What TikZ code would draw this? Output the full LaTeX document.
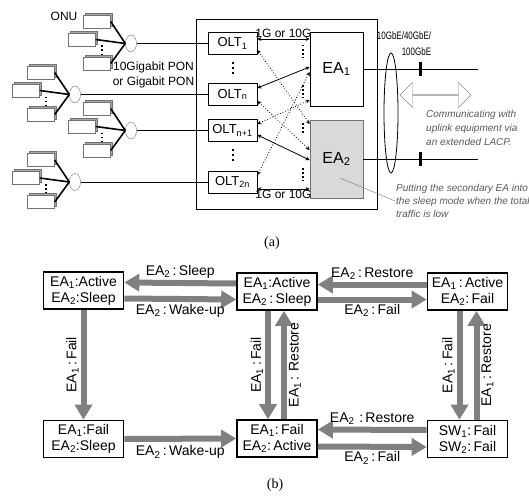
\documentclass[tikz,border=0pt]{standalone}
\usepackage{fontspec}
\setmainfont{Liberation Serif}
\setsansfont{Liberation Sans}
\renewcommand{\familydefault}{\sfdefault}
\usetikzlibrary{arrows.meta, shapes.geometric, shapes.arrows, shadows, calc}
\newcommand{\ix}[1]{\textsubscript{#1}}

\tikzset{
    onu/.style={draw=black!55, fill=white, minimum width=27, minimum height=13, inner sep=0,
        copy shadow={shadow xshift=2pt, shadow yshift=2pt, fill=black!35, draw=black!55}},
    split/.style={ellipse, draw=black!55, fill=white, minimum width=11, minimum height=17, inner sep=0},
    olt/.style={draw, thick, minimum width=49, minimum height=22, inner sep=1, font=\fontsize{13}{15}\selectfont},
    ea/.style={draw, thick, minimum width=53, inner sep=1, font=\fontsize{16}{18}\selectfont},
    link/.style={{Stealth[length=4pt,width=4pt]}-{Stealth[length=4pt,width=4pt]}, thick},
    dlink/.style={link, dotted},
    bigdots/.style={line width=2, dash pattern=on 2pt off 3pt},
    smalldots/.style={line width=1.4, dash pattern=on 1.5pt off 2.5pt},
    small/.style={font=\fontsize{12}{15}\selectfont, inner sep=1},
    note/.style={font=\itshape\fontsize{10}{14}\selectfont, text=black!65, align=left, inner sep=1},
    state/.style={draw, line width=1.6, minimum width=80, minimum height=37, inner sep=1,
        align=center, font=\fontsize{14}{16}\selectfont},
    trans/.style={-{Triangle[length=15pt, width=17pt]}, line width=6, draw=black!50},
    lbl/.style={font=\fontsize{14}{16}\selectfont, inner sep=2},
    caption/.style={font=\rmfamily\fontsize{14}{16}\selectfont}
}

\begin{document}
\begin{tikzpicture}[x=1pt, y=-1pt]
    \useasboundingbox (0,0) rectangle (529,495);

    % (a) : OLTs and EAs inside the box
    \draw[thick] (196,19) rectangle (377,209);
    \node[olt] (olt1) at (232.5,43.5) {OLT\ix{1}};
    \node[olt] (olt2) at (232.5,94.5) {OLT\ix{n}};
    \node[olt] (olt3) at (232.5,130.5) {OLT\ix{n+1}};
    \node[olt] (olt4) at (232.5,182) {OLT\ix{2n}};
    \draw[bigdots] (232.5,62) -- (232.5,77);
    \draw[bigdots] (232.5,149) -- (232.5,164);

    \node[ea, minimum height=74] (ea1) at (336.5,69) {EA\ix{1}};
    \node[ea, minimum height=78, fill=black!15, draw=black!55] (ea2) at (336.5,159) {EA\ix{2}};
    \draw[smalldots] (303,45) -- (303,58);
    \draw[smalldots] (303,85) -- (303,98);
    \draw[smalldots] (303,123) -- (303,134);
    \draw[smalldots] (303,168) -- (303,181);

    % links OLT <-> EA
    \draw[link] ([yshift=4.5pt]olt1.east) -- node[small, above] {1G or 10G} ([yshift=30pt]ea1.west);
    \draw[link] ([yshift=-7pt]olt4.east) -- node[small, below] {1G or 10G} ([yshift=-30pt]ea2.west);
    \draw[link] ([yshift=6.5pt]olt2.east) -- ([yshift=2pt]ea1.west);
    \draw[link] ([yshift=-4.5pt]olt3.east) -- ([yshift=-1pt]ea2.west);
    \draw[dlink] ([yshift=-6.5pt]olt1.east) -- ([yshift=35pt]ea2.west);
    \draw[dlink] ([yshift=-6.5pt]olt2.east) -- ([yshift=9pt]ea2.west);
    \draw[dlink] ([yshift=6.5pt]olt3.east) -- ([yshift=-31pt]ea1.west);
    \draw[dlink] ([yshift=7pt]olt4.east) -- ([yshift=-3pt]ea1.west);

    % ONU trees
    \foreach \g/\sx/\sy in {1/131/43.5, 2/75/94.5, 3/131/130.5, 4/75/182}{
        \node[onu] (onu\g-a) at (\sx-34,\sy-22) {};
        \node[onu] (onu\g-b) at (\sx-49,\sy-4) {};
        \node[onu] (onu\g-c) at (\sx-34,\sy+20) {};
        \draw[smalldots] (\sx-29,\sy+2) -- (\sx-29,\sy+11);
        \node[split] (sp\g) at (\sx,\sy) {};
        \draw[line width=1.6] (onu\g-a.east) -- (sp\g.west);
        \draw[line width=1.6] (onu\g-b.east) -- (sp\g.west);
        \draw[line width=1.6] (onu\g-c.east) -- (sp\g.west);
        \draw[thick] (sp\g.east) -- (olt\g.west);
    }
    \node[small] (onu) at (64,16) {ONU};
    \node[small, align=center] (pon) at (153.5,75) {10Gigabit PON\\or Gigabit PON};

    % uplinks
    \coordinate (up1) at (478,69);
    \coordinate (up2) at (478,159);
    \draw[thick] (ea1.east) -- (up1);
    \draw[thick] (ea2.east) -- (up2);
    \draw[line width=3] (420,62) -- (420,76);
    \draw[line width=3] (420,152) -- (420,166);
    \draw[thick] (391,113) ellipse [x radius=7, y radius=60];
    \node[small, align=right, anchor=east, xscale=0.74, font=\fontsize{10.8}{16}\selectfont] (gbe) at (432,44) {10GbE/40GbE/\\100GbE};
    \node[double arrow, draw=black!45, fill=white, minimum height=71, minimum width=25,
        double arrow head extend=7, inner sep=0] (lacp) at (435.5,95) {};
    \node[note, anchor=west] (note1) at (425,128) {Communicating with\\uplink equipment via\\an extended LACP.};
    \node[note, anchor=west, font=\itshape\fontsize{10}{13}\selectfont] (note2) at (395,201)
        {Putting the secondary EA into\\the sleep mode when the total\\traffic is low};
    \draw[black!55] ([xshift=3.5pt,yshift=-19pt]ea2.center) -- (note2.west);

    \node[caption] (capa) at (272,243) {(a)};

    % (b) : state diagram
    \node[state] (s1) at (83.5,290.5) {EA\ix{1}:Active\\EA\ix{2}:Sleep};
    \node[state] (s2) at (277,291.5) {EA\ix{1}:Active\\EA\ix{2}\,:\,Sleep};
    \node[state] (s3) at (467.5,291.5) {EA\ix{1}\,:\,Active\\EA\ix{2}:\,Fail};
    \node[state] (s4) at (83.5,439) {EA\ix{1}:Fail\\EA\ix{2}:Sleep};
    \node[state] (s5) at (277,438.5) {EA\ix{1}:\,Fail\\EA\ix{2}:\,Active};
    \node[state] (s6) at (467.5,439) {SW\ix{1}:\,Fail\\SW\ix{2}:\,Fail};

    \draw[trans] ([yshift=8pt]s2.west) -- node[lbl, above] {EA\ix{2}\,:\,Sleep} ([yshift=8pt]s1.east);
    \draw[trans] ([yshift=-8pt]s1.east) -- node[lbl, below] {EA\ix{2}\,:\,Wake-up} ([yshift=-8pt]s2.west);
    \draw[trans] ([yshift=7pt]s3.west) -- node[lbl, above] {EA\ix{2}\,:\,Restore} ([yshift=7pt]s2.east);
    \draw[trans] ([yshift=-8pt]s2.east) -- node[lbl, below] {EA\ix{2}\,:\,Fail} ([yshift=-8pt]s3.west);
    \draw[trans] (s4.east) -- node[lbl, below=2pt] {EA\ix{2}\,:\,Wake-up} (s5.west);
    \draw[trans] ([yshift=9pt]s6.west) -- node[lbl, above] {EA\ix{2}\,\,:\,Restore} ([yshift=9pt]s5.east);
    \draw[trans] ([yshift=-8pt]s5.east) -- node[lbl, below] {EA\ix{2}\,:\,Fail} ([yshift=-8pt]s6.west);

    \draw[trans] (s1.south) -- node[lbl, midway, rotate=90, anchor=south] {EA\ix{1}\,:\,Fail} (s4.north);
    \draw[trans] ([xshift=-9pt]s2.south) -- node[lbl, midway, rotate=90, anchor=south] {EA\ix{1}\,:\,Fail} ([xshift=-9pt]s5.north);
    \draw[trans] ([xshift=7pt]s5.north) -- node[lbl, midway, rotate=90, anchor=north] {EA\ix{1}\,:\,\,Restore} ([xshift=7pt]s2.south);
    \draw[trans] ([xshift=-8pt]s3.south) -- node[lbl, midway, rotate=90, anchor=south] {EA\ix{1}\,:\,Fail} ([xshift=-8pt]s6.north);
    \draw[trans] ([xshift=9pt]s6.north) -- node[lbl, midway, rotate=90, anchor=north] {EA\ix{1}\,:\,Restore} ([xshift=9pt]s3.south);

    \node[caption] (capb) at (275,485) {(b)};
\end{tikzpicture}
\end{document}
